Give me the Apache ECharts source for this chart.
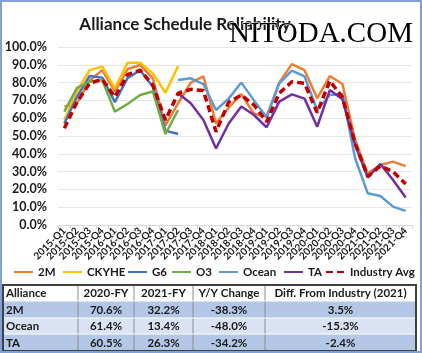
<!DOCTYPE html>
<html><head><meta charset="utf-8">
<script src="https://cdn.jsdelivr.net/npm/echarts@6/dist/echarts.min.js"></script>
<style>html,body{margin:0;padding:0;background:#fff}#c{width:422px;height:353px}</style>
</head><body><div id="c"></div>
<script>
const categories = ['2015-Q1','2015-Q2','2015-Q3','2015-Q4','2016-Q1','2016-Q2','2016-Q3','2016-Q4',
  '2017-Q1','2017-Q2','2017-Q3','2017-Q4','2018-Q1','2018-Q2','2018-Q3','2018-Q4',
  '2019-Q1','2019-Q2','2019-Q3','2019-Q4','2020-Q1','2020-Q2','2020-Q3','2020-Q4',
  '2021-Q1','2021-Q2','2021-Q3','2021-Q4'];
const s2M = [66.5,68.5,81,87,75,87.5,90,82.4,56,68.4,80,83.5,57,66,73.5,62.5,61,80,90.4,87,71.2,83.7,79.2,47.8,29,33.7,35.6,33.1];
const sCKYHE = [59,75,87,89,76.8,91.2,91.2,85.2,74.3,89.3,null,null,null,null,null,null,null,null,null,null,null,null,null,null,null,null,null,null];
const sG6 = [57,72,83.7,82.8,69,82.5,87,77.7,53,51.1,null,null,null,null,null,null,null,null,null,null,null,null,null,null,null,null,null,null];
const sO3 = [63.7,77,80.5,81.5,63.7,68,73,75,51.1,64.6,null,null,null,null,null,null,null,null,null,null,null,null,null,null,null,null,null,null];
const sOcean = [null,null,null,null,null,null,null,null,null,81.5,82.4,79.2,64.6,71,80,70,60.5,79.6,86.7,83.5,64.6,73,73.6,37.5,17.8,16.3,10.3,7.9];
const sTA = [null,null,null,null,null,null,null,null,null,74,68.4,59,43,57,66.6,61.8,54.9,69.3,73.4,71,55.2,75.8,70.6,45,26.8,34.3,25.3,15.5];
const sIndustry = [54.3,69,79.6,81.8,72,84.5,87,78.6,59,74,76.2,75.5,52.4,69,73,67.4,58,74,80.5,79.6,63.1,81,71.7,45.9,27.2,33.1,30,23];
const seriesNames = ['2M','CKYHE','G6','O3','Ocean','TA','Industry Avg'];
const tableHeader = ['Alliance','2020-FY','2021-FY','Y/Y Change','Diff. From Industry (2021)'];
const tableRows = [
  ['2M','70.6%','32.2%','-38.3%','3.5%'],
  ['Ocean','61.4%','13.4%','-48.0%','-15.3%'],
  ['TA','60.5%','26.3%','-34.2%','-2.4%']
];

const colors = ['#ED7D31','#FFC000','#4472C4','#70AD47','#5B9BD5','#7030A0','#C00000'];
const seriesData = [s2M,sCKYHE,sG6,sO3,sOcean,sTA,sIndustry];
const FONT = 'Lato';
const legendLeft = [13,62,127,171,218,283,325];

const chart = echarts.init(document.getElementById('c'), null, {renderer:'canvas'});

const series = seriesNames.map((n,i)=>({
  name:n, type:'line', data:seriesData[i], symbol:'none', connectNulls:false,
  lineStyle:{color:colors[i], width: i===6?3.5:2.5, type: i===6?[7,4]:'solid', cap:'butt'},
  itemStyle:{color:colors[i]}, z: 2+i, animation:false
}));

const legends = seriesNames.map((n,i)=>({
  top:266, left:legendLeft[i], itemWidth:19, itemHeight:10, padding:0,
  itemStyle:{opacity:0}, selectedMode:false,
  textStyle:{fontFamily:FONT, fontWeight:'bold', fontSize:11.5, color:'#1a1a1a'},
  data:[n]
}));

// table graphics
const colX = [3,78,134,193,265,416];
const rowY = [285,301,318,334,351];
const rowBg = ['#ffffff','#b4c7e7','#dae3f3','#b4c7e7'];
const tableEls = [];
const allRows = [tableHeader].concat(tableRows);
allRows.forEach((r,ri)=>{
  tableEls.push({type:'rect', shape:{x:colX[0],y:rowY[ri],width:colX[5]-colX[0],height:rowY[ri+1]-rowY[ri]},
    style:{fill:rowBg[ri], stroke:null}, silent:true});
  r.forEach((t,ci)=>{
    const left = ci===0;
    tableEls.push({type:'text', x: left? colX[0]+3 : (colX[ci]+colX[ci+1])/2, y:(rowY[ri]+rowY[ri+1])/2+0.5,
      style:{text:t, fill:'#1a1a1a', font:'bold 11.5px '+FONT, align:left?'left':'center', verticalAlign:'middle'}, silent:true});
  });
});
for(let ci=1; ci<colX.length-1; ci++){
  tableEls.push({type:'line', shape:{x1:colX[ci],y1:rowY[0],x2:colX[ci],y2:rowY[4]}, style:{stroke:'#8c8c8c', lineWidth:1}, silent:true});
}
for(let ri=1; ri<rowY.length-1; ri++){
  tableEls.push({type:'line', shape:{x1:colX[0],y1:rowY[ri],x2:colX[5],y2:rowY[ri]}, style:{stroke:'#ffffff', lineWidth:1}, silent:true});
}
tableEls.push({type:'rect', shape:{x:colX[0],y:rowY[0],width:colX[5]-colX[0],height:rowY[4]-rowY[0]},
  style:{fill:null, stroke:'#404040', lineWidth:2}, silent:true});

const option = {
  animation:false,
  backgroundColor:'#ffffff',
  title:{text:'Alliance Schedule Reliability', left:180, top:11, textAlign:'center',
    textStyle:{fontFamily:FONT, fontWeight:'bold', fontSize:17, color:'#1a1a1a'}},
  grid:{left:58, right:10, top:47, bottom:128, containLabel:false},
  legend:legends,
  xAxis:{type:'category', data:categories, boundaryGap:true,
    axisLine:{lineStyle:{color:'#d9d9d9'}},
    axisTick:{show:true, length:4, lineStyle:{color:'#d9d9d9'}},
    axisLabel:{rotate:45, interval:0, fontFamily:FONT, fontWeight:'bold', fontSize:10, color:'#1a1a1a', margin:4}},
  yAxis:{type:'value', min:0, max:100, interval:10,
    axisLine:{show:false}, axisTick:{show:false},
    splitLine:{lineStyle:{color:'#e6e6e6', width:1}},
    axisLabel:{formatter:v=>v.toFixed(1)+'%', fontFamily:FONT, fontWeight:'bold', fontSize:12.5, color:'#1a1a1a', margin:11}},
  series:series,
  graphic:[
    {type:'rect', shape:{x:1,y:1,width:420,height:351}, style:{fill:null, stroke:'#7f9fd6', lineWidth:2}, silent:true, z:100},
    {type:'text', x:229, y:20, z:100, style:{text:'NITODA.COM', font:'29px "Liberation Serif"', fill:'#000',
      stroke:'#ffffff', lineWidth:1, textShadowColor:'#5b9bd5', textShadowOffsetX:-1.5, textShadowOffsetY:0, textShadowBlur:0}, silent:true}
  ].concat(tableEls)
};
chart.setOption(option);
</script></body></html>
